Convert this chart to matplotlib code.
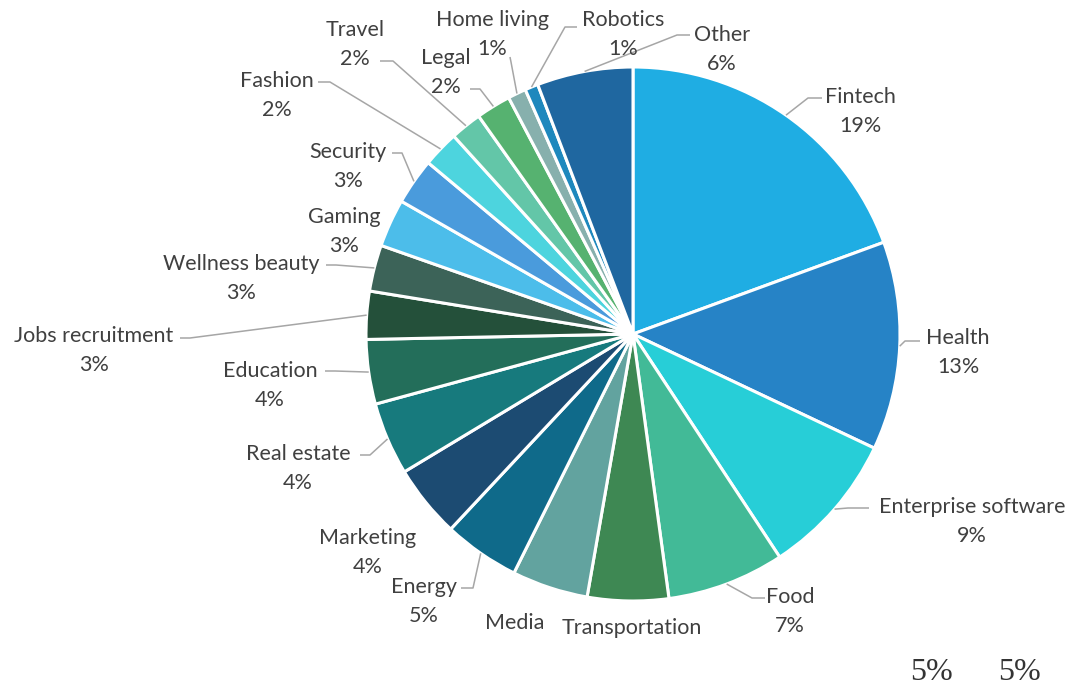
# Pie chart of startup sectors with leader-line labels
import numpy as np
import matplotlib.pyplot as plt

# Data (percent shares)
sectors = ['Fintech', 'Health', 'Enterprise software', 'Food', 'Transportation',
           'Media', 'Energy', 'Marketing', 'Real estate', 'Education',
           'Jobs recruitment', 'Wellness beauty', 'Gaming', 'Security', 'Fashion',
           'Travel', 'Legal', 'Home living', 'Robotics', 'Other']
shares = [19.4, 12.6, 8.7, 7.1, 4.9, 4.6, 4.6, 4.4, 4.4, 3.9,
          2.9, 2.8, 2.9, 2.8, 2.2, 1.9, 2.1, 1.1, 0.8, 5.8]
colors = ['#1FADE3', '#2683C6', '#27CED7', '#42BA97', '#3E8853',
          '#62A39F', '#0F6A8A', '#1C4B72', '#177A7D', '#236E5A',
          '#24503A', '#3C6358', '#4CBDEA', '#4A9BDC', '#4DD4DE',
          '#63C6A8', '#56B270', '#87B0AD', '#1E88BD', '#1F67A0']

# Layout: label centre (px) and leader anchor/knee (px) per slice, None = no leader
label_xy = [(860, 97), (958, 338), (972, 507), (790, 597), (632, 628),
            (515, 623), (424, 587), (368, 538), (298, 454), (270, 371),
            (94, 336), (241, 264), (344, 217), (348, 152), (277, 81),
            (355, 30), (446, 58), (492, 20), (623, 20), (722, 35)]
leaders = [((822, 98), (808, 98)), ((920, 341), (905, 341)), ((869, 508), (848, 508)),
           ((765, 598), (752, 598)), None, None, ((461, 588), (473, 588)), None,
           ((360, 455), (370, 455)), ((325, 371), (335, 371)), ((180, 338), (190, 338)),
           ((326, 265), (336, 265)), None, ((392, 153), (402, 153)),
           ((318, 82), (330, 82)), ((380, 61), (393, 61)), ((470, 89), (480, 89)),
           ((510, 57), (511, 62)), ((577, 27), (565, 27)), ((690, 35), (677, 35))]
no_pct = ['Transportation', 'Media']

W, H = 1070, 690
CX, CY, R = 633, 334, 267

plt.rcParams['font.family'] = ['Lato', 'DejaVu Sans']
fig = plt.figure(figsize=(W / 100, H / 100), dpi=100)
ax = fig.add_axes([(CX - R) / W, (H - CY - R) / H, 2 * R / W, 2 * R / H])

wedges, _ = ax.pie(shares, colors=colors, startangle=90, counterclock=False,
                   radius=1, wedgeprops=dict(edgecolor='white', linewidth=2.2))
ax.set_xlim(-1, 1)
ax.set_ylim(-1, 1)
ax.set_aspect('equal')
ax.axis('off')


def to_data(px, py):
    return (px - CX) / R, (CY - py) / R


total = sum(shares)
txt = '#404040'
for w, name, v, (lx, ly), ld in zip(wedges, sectors, shares, label_xy, leaders):
    x, y = to_data(lx, ly)
    ax.text(x, y, name, ha='center', va='center', fontsize=15.5, color=txt)
    if name not in no_pct:
        x2, y2 = to_data(lx, ly + 29)
        ax.text(x2, y2, f'{round(v / total * 100)}%', ha='center', va='center',
                fontsize=15.5, color=txt)
    if ld is not None:
        mid = np.deg2rad((w.theta1 + w.theta2) / 2)
        ex, ey = np.cos(mid), np.sin(mid)
        ax_, ay_ = to_data(*ld[0])
        kx, ky = to_data(*ld[1])
        ax.plot([ax_, kx, ex], [ay_, ky, ey], color='#A6A6A6', lw=1.1,
                clip_on=False, solid_capstyle='butt')

# stray percentages of the two unlabeled slices
for i, name in enumerate(no_pct):
    v = shares[sectors.index(name)]
    fig.text((932 + 88 * i) / W, 1 - 672 / H, f'{round(v / total * 100)}%',
             ha='center', va='center', fontsize=23, color='#333333',
             family='Liberation Serif')

plt.savefig('out.png', dpi=100)
